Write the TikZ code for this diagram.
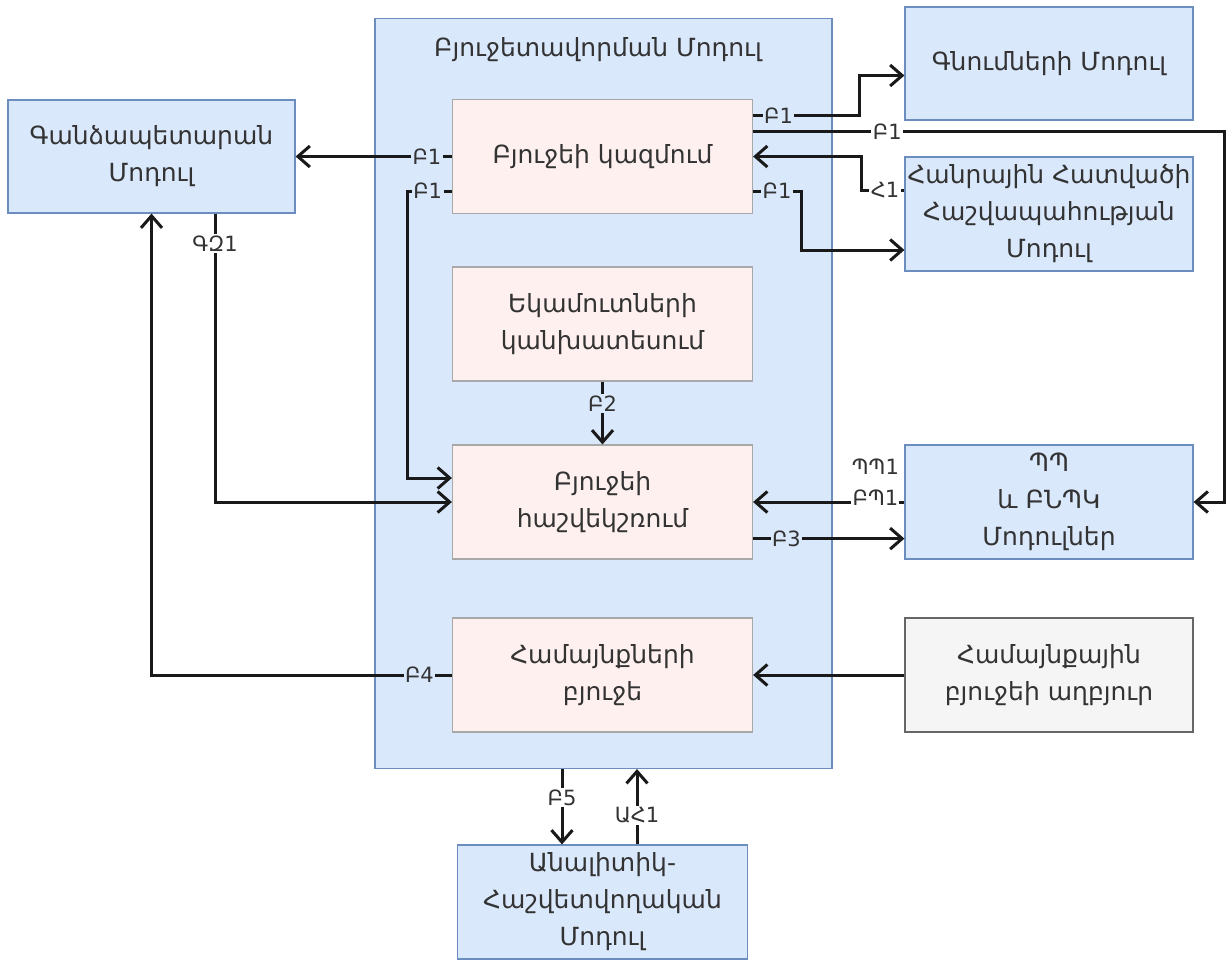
\documentclass[tikz,border=0pt]{standalone}
\usepackage{fontspec}
\usetikzlibrary{arrows.meta,calc}
\newfontfamily\armfont{DejaVu Sans}
\definecolor{contfill}{HTML}{DAE8FC}
\definecolor{contline}{HTML}{6C8EBF}
\definecolor{pinkfill}{HTML}{FDF0EE}
\definecolor{pinkline}{HTML}{A8A8A8}
\definecolor{grayfill}{HTML}{F5F5F5}
\definecolor{grayline}{HTML}{666666}
\definecolor{txt}{HTML}{333333}
\tikzset{
  box/.style={rectangle, draw, line width=1.2pt, align=center, text=txt,
    font=\armfont\fontsize{25}{37}\selectfont, inner sep=2pt},
  bluebox/.style={box, fill=contfill, draw=contline},
  pinkbox/.style={box, fill=pinkfill, draw=pinkline,
    minimum width=300pt, minimum height=114pt},
  graybox/.style={box, fill=grayfill, draw=grayline},
  conn/.style={line width=3pt, draw=black!90,
    -{Straight Barb[length=12pt,width=21pt]}},
  plain/.style={line width=3pt, draw=black!90},
  lbl/.style={font=\armfont\fontsize{21}{31}\selectfont, text=txt,
    inner sep=1.5pt, fill=contfill},
  lblw/.style={lbl, fill=white}
}
\begin{document}
\begin{tikzpicture}[x=1pt,y=-1pt]
\useasboundingbox (0,0) rectangle (1231,959);
\fill[white] (0,0) rectangle (1231,959);

% budgeting module container
\node[bluebox, minimum width=457pt, minimum height=750pt] (main) at (603.5,393.5) {};
\node[text=txt, font=\armfont\fontsize{25}{37}\selectfont] (title) at (598,50) {Բյուջետավորման Մոդուլ};

% inner blocks
\node[pinkbox] (comp) at (602.5,156.5) {Բյուջեի կազմում};
\node[pinkbox] (fore) at (602.5,324) {Եկամուտների\\կանխատեսում};
\node[pinkbox] (bal)  at (602.5,502) {Բյուջեի\\հաշվեկշռում};
\node[pinkbox] (comm) at (602.5,675) {Համայնքների\\բյուջե};

% outer modules
\node[bluebox, minimum width=287pt, minimum height=113pt] (treas) at (151.5,156.5) {Գանձապետարան\\Մոդուլ};
\node[bluebox, minimum width=288pt, minimum height=113pt] (proc) at (1049,63.5) {Գնումների Մոդուլ};
\node[bluebox, minimum width=288pt, minimum height=114pt] (acct) at (1049,214) {Հանրային Հատվածի\\Հաշվապահության\\Մոդուլ};
\node[bluebox, minimum width=288pt, minimum height=114pt] (pp) at (1049,502) {ՊՊ\\և ԲՆՊԿ\\Մոդուլներ};
\node[graybox, minimum width=288pt, minimum height=114pt] (src) at (1049,675) {Համայնքային\\բյուջեի աղբյուր};
\node[bluebox, minimum width=290pt, minimum height=114pt] (anl) at (602.5,902) {Անալիտիկ-\\Հաշվետվողական\\Մոդուլ};

% connectors
\draw[conn] ($(comp.north east)+(0,17)$) -- node[lbl,pos=0.24]{Բ1} ++(106,0) |- ($(proc.west)+(0,12)$);
\draw[conn] ($(comp.north east)+(0,33)$) -- node[lblw,pos=0.285]{Բ1} ++(471,0) |- (pp.east);
\draw[conn] ($(acct.west)+(0,-24)$) -- node[lblw,pos=0.45]{Հ1} ++(-43,0) |- (comp.east);
\draw[conn] ($(comp.south east)+(0,-23)$) -- node[lbl,pos=0.5]{Բ1} ++(48,0) |- ($(acct.west)+(0,36)$);
\draw[conn] (comp.west) -- node[lbl,pos=0.16]{Բ1} (treas.east);
\draw[conn] ($(comp.south west)+(0,-23)$) -- node[lbl,pos=0.55]{Բ1} ++(-44,0) |- ($(bal.west)+(0,-24)$);
\draw[plain] ($(treas.south)+(63.5,0)$) -- node[lblw,pos=0.5]{ԳԶ1} ++(0,60) coordinate (gz);
\draw[conn] (gz) |- (bal.west);
\draw[conn] (fore.south) -- node[lbl,pos=0.35]{Բ2} (bal.north);
\draw[conn] (pp.west) -- (bal.east);
\node[lblw, align=center, inner sep=0.5pt] (ppl) at ($(pp.west)+(-29,-20)$) {ՊՊ1\\ԲՊ1};
\draw[conn] ($(bal.south east)+(0,-21)$) -- node[lbl,pos=0.22]{Բ3} ($(pp.south west)+(0,-21)$);
\draw[conn] (src.west) -- (comm.east);
\draw[conn] (comm.west) -| node[lbl,pos=0.054]{Բ4} (treas.south);
\draw[conn] ($(main.south)+(-41.5,0)$) -- node[lblw,pos=0.38]{Բ5} ($(anl.north)+(-40.5,0)$);
\draw[conn] ($(anl.north)+(34.5,0)$) -- node[lblw,pos=0.39]{ԱՀ1} ($(main.south)+(33.5,0)$);
\end{tikzpicture}
\end{document}
